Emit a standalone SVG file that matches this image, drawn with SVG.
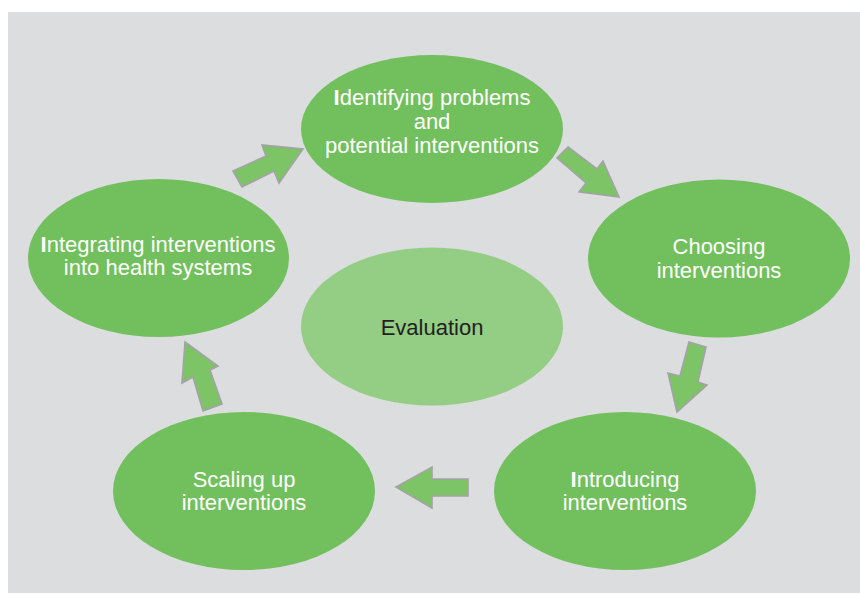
<svg xmlns="http://www.w3.org/2000/svg" width="860" height="594" viewBox="0 0 860 594">
<style>
.node{fill:#72bf5e}
.eval{fill:#94cd84}
.t{font-family:"Liberation Sans",Arial,sans-serif;font-size:22px;fill:#ffffff;text-anchor:middle}
.td{font-family:"Liberation Sans",Arial,sans-serif;font-size:22px;fill:#231f20;text-anchor:middle}
.b{font-weight:bold}
.arrow{fill:#7dc466;stroke:#a3a3a6;stroke-width:1.6;stroke-linejoin:miter}
</style>
<rect x="8" y="12" width="852" height="581" fill="#dcdddf"/>
<g id="connectors">
<polygon class="arrow" points="233,171 266,156 262,145 303,149 279,183 274,171 242,187"/>
<polygon class="arrow" points="568,147 597,169 603,161 619,197 579,192 586,183 557,158"/>
<polygon class="arrow" points="689,342 706,347 698,382 707,385 677,412 668,373 680,376"/>
<polygon class="arrow" points="468,479 468,496 432,496 432,508 396,487 432,467 432,479"/>
<polygon class="arrow" points="185,342 218,366 210,370 222,404 203,411 193,377 182,383"/>
</g>
<g id="identifying">
<ellipse class="node" cx="432" cy="129" rx="131" ry="74"/>
<text class="t" x="432" y="105"><tspan class="b">I</tspan>dentifying problems</text>
<text class="t" x="432" y="129">and</text>
<text class="t" x="432" y="153">potential interventions</text>
</g>
<g id="choosing">
<ellipse class="node" cx="719" cy="258.5" rx="131" ry="79"/>
<text class="t" x="719" y="254">Choosing</text>
<text class="t" x="719" y="278">interventions</text>
</g>
<g id="introducing">
<ellipse class="node" cx="625" cy="491" rx="131" ry="79"/>
<text class="t" x="625" y="487"><tspan class="b">I</tspan>ntroducing</text>
<text class="t" x="625" y="510">interventions</text>
</g>
<g id="scaling">
<ellipse class="node" cx="244" cy="491" rx="131" ry="79"/>
<text class="t" x="244" y="487">Scaling up</text>
<text class="t" x="244" y="510">interventions</text>
</g>
<g id="integrating">
<ellipse class="node" cx="158.5" cy="258" rx="130.5" ry="79"/>
<text class="t" x="158" y="252"><tspan class="b">I</tspan>ntegrating interventions</text>
<text class="t" x="158" y="275">into health systems</text>
</g>
<g id="evaluation">
<ellipse class="eval" cx="432" cy="326.5" rx="131" ry="79"/>
<text class="td" x="432" y="335">Evaluation</text>
</g>
</svg>
